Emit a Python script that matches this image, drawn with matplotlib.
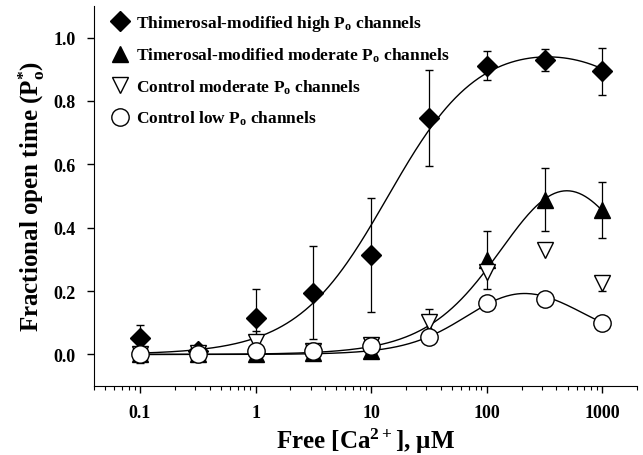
import numpy as np
import matplotlib
matplotlib.use('Agg')
import matplotlib.pyplot as plt
from matplotlib.lines import Line2D

plt.rcParams['font.family'] = 'Liberation Serif'
plt.rcParams['font.weight'] = 'bold'
plt.rcParams['axes.labelweight'] = 'bold'
plt.rcParams['mathtext.fontset'] = 'custom'
plt.rcParams['mathtext.rm'] = 'Liberation Serif:bold'
plt.rcParams['mathtext.it'] = 'Liberation Serif:bold'
plt.rcParams['mathtext.bf'] = 'Liberation Serif:bold'

# free Ca2+ concentrations (uM)
ca = [0.1, 0.316, 1, 3.16, 10, 31.6, 100, 316, 1000]

# thimerosal-modified high Po channels
high_po = [0.052, 0.012, 0.115, 0.195, 0.315, 0.745, 0.911, 0.930, 0.893]
high_err = [0.04, 0.0, 0.09, 0.147, 0.18, 0.151, 0.046, 0.035, 0.073]

# thimerosal-modified moderate Po channels
mod_po = [0.0, 0.0, 0.0, 0.005, 0.012, 0.07, 0.298, 0.488, 0.456]
mod_err = [0.0, 0.0, 0.0, 0.0, 0.0, 0.0, 0.09, 0.1, 0.088]

# control moderate Po channels
ctl_mod = [0.0, 0.005, 0.04, 0.01, 0.03, 0.103, 0.261, 0.33, 0.224]
ctl_mod_err = [0.02, 0.0, 0.035, 0.0, 0.015, 0.04, 0.0, 0.0, 0.025]

# control low Po channels
ctl_low = [0.003, 0.003, 0.01, 0.01, 0.026, 0.054, 0.161, 0.174, 0.098]
ctl_low_err = [0.03, 0.0, 0.0, 0.0, 0.0, 0.0, 0.0, 0.0, 0.0]

labels = [r'Thimerosal-modified high P$_\mathrm{o}$ channels',
          r'Timerosal-modified moderate P$_\mathrm{o}$ channels',
          r'Control moderate P$_\mathrm{o}$ channels',
          r'Control low P$_\mathrm{o}$ channels']

# fitted curve parameters: Pmax, Ka, nH (activation), Ki, mH (inactivation)
fit_high = (1.0, 14.0, 1.1, 10000.0, 1.0)
fit_mod = (0.94, 200.0, 1.2, 1200.0, 1.15)
fit_low = (0.34, 90.0, 1.5, 483.0, 1.16)


def bell(x, p):
    pmax, ka, n, ki, m = p
    return pmax * x**n / (x**n + ka**n) * ki**m / (x**m + ki**m)


xs = np.logspace(-1, 3, 300)

fig = plt.figure(figsize=(6.43, 4.56), dpi=100)
ax = fig.add_axes([0.146, 0.151, 0.845, 0.834])

for p in (fit_high, fit_mod, fit_low):
    ax.plot(xs, bell(xs, p), color='black', lw=1.0, zorder=2)

styles = [('D', 10.5, 'black'), ('^', 12, 'black'), ('v', 12, 'white'), ('o', 12.5, 'white')]
series = [(high_po, high_err), (mod_po, mod_err), (ctl_mod, ctl_mod_err), (ctl_low, ctl_low_err)]

ekw = dict(ecolor='black', elinewidth=0.9, capsize=3, capthick=0.9, ls='none',
           mec='black', mew=1.0, zorder=3)
handles = []
for (y, e), (mk, ms, fc), lab in zip(series, styles, labels):
    ax.errorbar(ca, y, yerr=e, fmt=mk, ms=ms, mfc=fc, **ekw)
    handles.append(Line2D([], [], ls='none', marker=mk, ms=ms, mfc=fc,
                          mec='black', mew=1.0, label=lab))

ax.set_xscale('log')
ax.set_xlim(0.04, 2000)
ax.set_ylim(-0.1, 1.1)
ax.set_yticks([0.0, 0.2, 0.4, 0.6, 0.8, 1.0])
ax.set_yticklabels(['0.0', '0.2', '0.4', '0.6', '0.8', '1.0'])
ax.set_xticks([0.1, 1, 10, 100, 1000])
ax.set_xticklabels(['0.1', '1', '10', '100', '1000'])
ax.spines['top'].set_visible(False)
ax.spines['right'].set_visible(False)
ax.tick_params(axis='both', which='major', direction='out', length=5, width=1,
               labelsize=13, pad=8)
ax.tick_params(axis='x', which='minor', direction='out', length=3, width=0.8)

ax.set_xlabel(r'Free [Ca$^{2+}$], μM', fontsize=18, labelpad=3)
ax.set_ylabel(r'Fractional open time (P$_\mathrm{o}^{*}$)', fontsize=18, labelpad=5)

ax.legend(handles=handles, loc='upper left', frameon=False, fontsize=12.5,
          handletextpad=0.3, labelspacing=0.75, borderaxespad=0.0,
          handlelength=1.2, bbox_to_anchor=(0.017, 1.0))

fig.savefig('out.png', dpi=100)
